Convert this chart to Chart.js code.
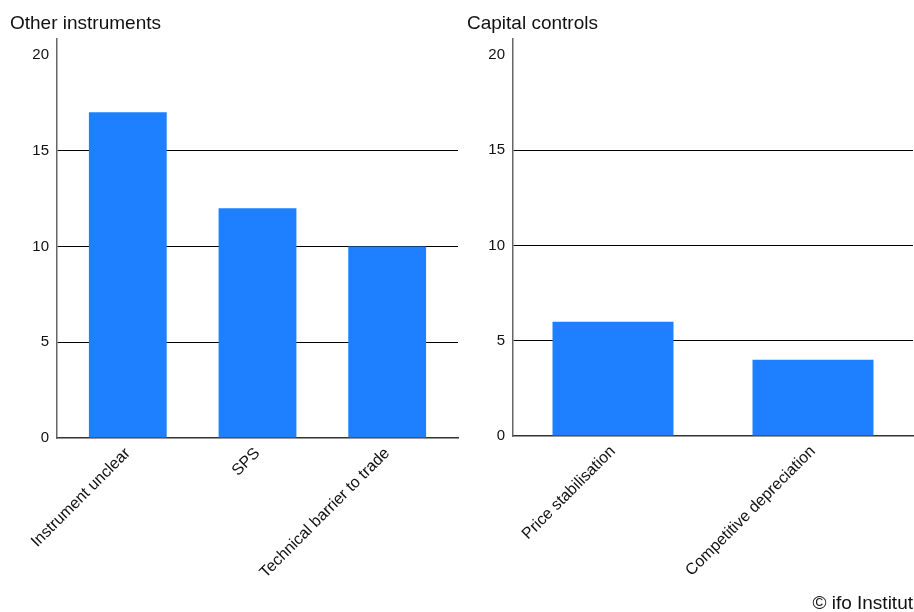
<!DOCTYPE html>
<html lang="en">
<head>
	<meta charset="UTF-8">
	<title>Other instruments / Capital controls</title>
	<script src="https://cdn.jsdelivr.net/npm/chart.js@4/dist/chart.umd.min.js"></script>
	<style>
		body { margin: 0; background: #fff; }
		.wrap { position: relative; width: 914px; height: 612px; font-family: "Liberation Sans", Arial, sans-serif; }
		#leftChart { position: absolute; left: 0; top: 0; }
		#rightChart { position: absolute; left: 460px; top: 0; }
		.source { position: absolute; right: 1px; top: 592px; font-size: 19px; color: #111; }
	</style>
</head>
<body>
	<div class="wrap">
		<canvas id="leftChart" width="460" height="612"></canvas>
		<canvas id="rightChart" width="454" height="612"></canvas>
		<div class="source">© ifo Institut</div>
	</div>

	<script>
		// data
		var leftTitle = 'Other instruments';
		var leftCategories = ['Instrument unclear', 'SPS', 'Technical barrier to trade'];
		var leftValues = [17, 12, 10];

		var rightTitle = 'Capital controls';
		var rightCategories = ['Price stabilisation', 'Competitive depreciation'];
		var rightValues = [6, 4];

		var yTicks = [0, 5, 10, 15, 20];
		var yMax = 20.83;

		var fontFamily = '"Liberation Sans", Arial, sans-serif';

		function makeChart(id, title, labels, values, cfg) {
			return new Chart(document.getElementById(id), {
				type: 'bar',
				data: {
					labels: labels,
					datasets: [{
						data: values,
						backgroundColor: '#1f80ff',
						borderWidth: 0,
						barPercentage: cfg.barPct,
						categoryPercentage: 1
					}]
				},
				options: {
					responsive: false,
					animation: false,
					layout: {
						padding: { top: 12, left: cfg.padLeft, right: cfg.padRight, bottom: 0 }
					},
					plugins: {
						legend: { display: false },
						tooltip: { enabled: false },
						title: {
							display: true,
							text: title,
							align: 'start',
							color: '#111',
							font: { family: fontFamily, size: 19, weight: 'normal' },
							padding: { top: 0, bottom: 4.2 }
						}
					},
					scales: {
						x: {
							grid: { display: false, drawTicks: false },
							border: { display: true, color: '#333', width: 1.5 },
							ticks: {
								minRotation: 45,
								maxRotation: 45,
								padding: 6,
								color: '#111',
								font: { family: fontFamily, size: 16 }
							},
							// small inset of the categories at both ends of the axis
							afterBuildTicks: function (scale) {
								scale._startValue -= cfg.inset;
								scale._valueRange += 2 * cfg.inset;
							},
							afterFit: function (scale) { scale.height = cfg.xHeight; }
						},
						y: {
							min: 0,
							max: yMax,
							afterBuildTicks: function (scale) {
								scale.ticks = yTicks.map(function (v) { return { value: v }; });
							},
							grid: {
								drawTicks: false,
								color: function (ctx) {
									var v = ctx.tick && ctx.tick.value;
									return (v === 0 || v === 20) ? 'rgba(0,0,0,0)' : '#000';
								},
								lineWidth: 1
							},
							border: { display: true, color: '#666', width: 1.5 },
							ticks: {
								padding: 8,
								color: '#111',
								font: { family: fontFamily, size: 15 }
							},
							afterFit: function (scale) { scale.width = cfg.yWidth; }
						}
					}
				}
			});
		}

		var leftChart = makeChart('leftChart', leftTitle, leftCategories, leftValues, {
			barPct: 0.60, inset: 0.046, padLeft: 10, padRight: 2, yWidth: 47, xHeight: 174
		});
		var rightChart = makeChart('rightChart', rightTitle, rightCategories, rightValues, {
			barPct: 0.605, inset: 0, padLeft: 7, padRight: 1, yWidth: 46, xHeight: 176
		});
	</script>
</body>
</html>
